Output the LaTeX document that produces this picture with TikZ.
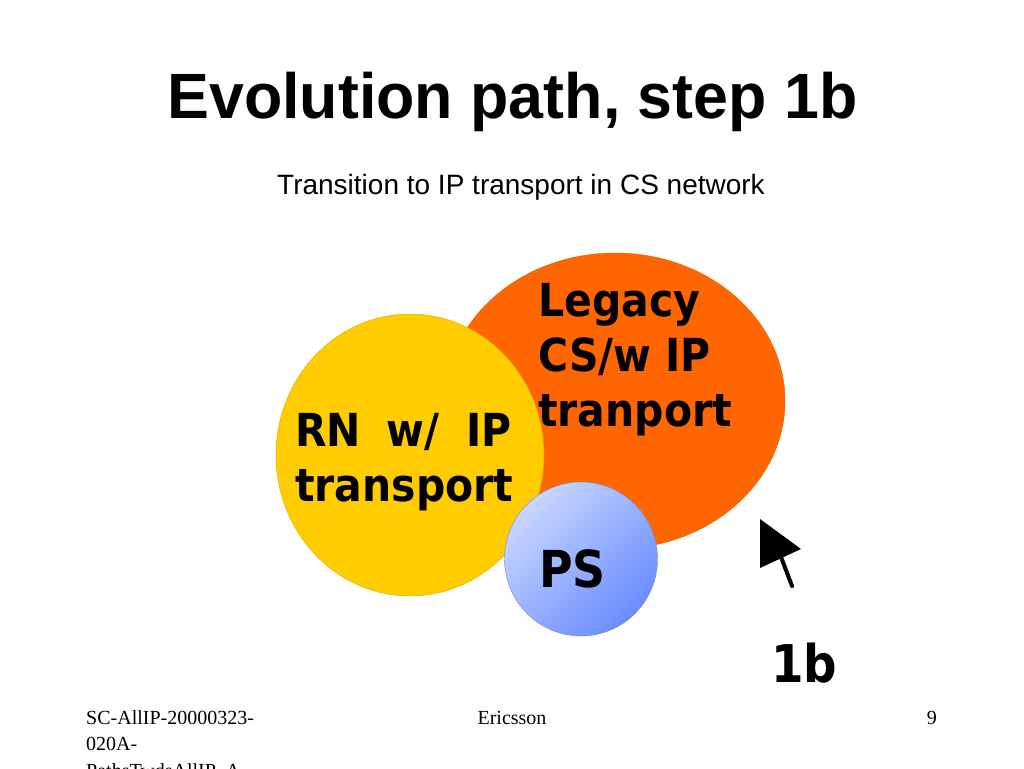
\documentclass[tikz,border=0pt]{standalone}
\usepackage{fontspec}
\usetikzlibrary{shapes.geometric}
\setmainfont{Liberation Serif}
\newfontfamily\arialfont{Liberation Sans}
\newfontfamily\titlefont[FakeStretch=0.98]{Liberation Sans Bold}
\newfontfamily\vfont[FakeStretch=0.9]{DejaVu Sans Bold}
\definecolor{legacyorange}{HTML}{FF6600}
\definecolor{rnyellow}{HTML}{FFCC00}
\definecolor{pslight}{HTML}{C8D6FF}
\definecolor{psdark}{HTML}{6A8CFF}
\tikzset{
  blob/.style={ellipse, inner sep=0pt, outer sep=0pt},
  blobtext/.style={anchor=base west, align=left, inner sep=0pt, font=\vfont\fontsize{45.5}{55}\selectfont},
  footer/.style={anchor=base, inner sep=0pt, font=\fontsize{20}{26.5}\selectfont}
}
\begin{document}
\begin{tikzpicture}[x=1pt,y=1pt]
\useasboundingbox (0,0) rectangle (1024,768);
% title and subtitle
\node[anchor=base, inner sep=0pt, font=\titlefont\fontsize{64}{70}\selectfont] (title) at (512.5,649.7) {Evolution path, step 1b};
\node[anchor=base, inner sep=0pt, font=\arialfont\fontsize{28}{32}\selectfont] (subtitle) at (521,573) {Transition to IP transport in CS network};
% circles
\node[blob, fill=legacyorange, draw=legacyorange!90!black, line width=0.4pt, minimum width=340pt, minimum height=296pt] (legacy) at (615,367) {};
\node[blob, fill=rnyellow, draw=rnyellow!85!black, line width=0.4pt, minimum width=268pt, minimum height=282pt] (rn) at (410,313) {};
\node[blob, top color=pslight, bottom color=psdark, shading angle=45, draw=psdark!70!gray, line width=0.4pt, minimum width=153pt, minimum height=154pt] (ps) at (581,209) {};
% circle texts (base anchor = baseline of the last line)
\node[blobtext] (legacytext) at (538,341) {Legacy\\CS/w IP\\tranport};
\node[blobtext] (rntext) at (295,266) {RN \hspace{11pt}w/ \hspace{13pt}IP\\transport};
\node[anchor=base west, inner sep=0pt, font=\vfont\fontsize{51}{55}\selectfont] (pstext) at (539,180) {PS};
% cursor
\fill[black] (760,249) -- (760,200) -- (801,219) -- cycle;
\coordinate (tailA) at (781,211);
\coordinate (tailB) at (792,182);
\draw[line width=4pt, line cap=round] (tailA) -- (tailB);
\node[anchor=base west, inner sep=0pt, font=\vfont\fontsize{52}{56}\selectfont] (step) at (771,86) {1b};
% footer
\node[footer, anchor=base west, align=left] (ref) at (86,-9) {SC-AllIP-20000323-\\020A-\\PathsTwdsAllIP\_A};
\node[footer] (company) at (512,44) {Ericsson};
\node[footer, anchor=base east] (page) at (937,44) {9};
\end{tikzpicture}
\end{document}
